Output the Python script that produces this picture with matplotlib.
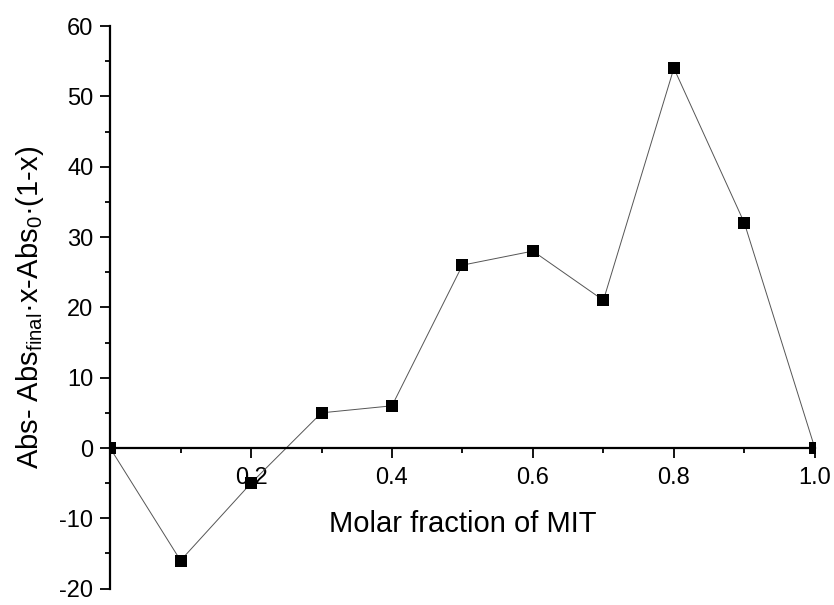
import matplotlib
matplotlib.use("Agg")
import matplotlib.pyplot as plt
from matplotlib.ticker import MultipleLocator, FixedLocator

plt.rcParams["font.family"] = ["Liberation Sans", "DejaVu Sans"]
plt.rcParams["mathtext.default"] = "regular"
plt.rcParams["axes.unicode_minus"] = False

# --- Data ---
molar_fraction = [0.0, 0.1, 0.2, 0.3, 0.4, 0.5, 0.6, 0.7, 0.8, 0.9, 1.0]
abs_deviation = [0, -16, -5, 5, 6, 26, 28, 21, 54, 32, 0]
x_major_ticks = [0.2, 0.4, 0.6, 0.8, 1.0]
x_tick_labels = ["0.2", "0.4", "0.6", "0.8", "1.0"]

fig = plt.figure(figsize=(8.34, 6.05), dpi=100)
ax = fig.add_axes([0.132, 0.027, 0.845, 0.930])

ax.plot(molar_fraction, abs_deviation, color="#555555", lw=0.7, zorder=3)
# square markers as a collection so the end points get clipped by the axes
ax.scatter(molar_fraction, abs_deviation, marker="s", s=75,
           color="black", linewidths=0, zorder=3)

ax.set_xlim(0, 1.0)
ax.set_ylim(-20, 60)

# x axis runs through y = 0
ax.spines["bottom"].set_position(("data", 0))
ax.spines["top"].set_visible(False)
ax.spines["right"].set_visible(False)
for side in ("bottom", "left"):
    ax.spines[side].set_linewidth(1.6)
    ax.spines[side].set_zorder(4)

ax.xaxis.set_major_locator(FixedLocator(x_major_ticks))
ax.set_xticklabels(x_tick_labels)
ax.xaxis.set_minor_locator(MultipleLocator(0.1))
ax.yaxis.set_major_locator(MultipleLocator(10))
ax.yaxis.set_minor_locator(MultipleLocator(5))

ax.tick_params(which="major", direction="out", length=7, width=1.3, labelsize=17)
ax.tick_params(which="minor", direction="out", length=3.5, width=1.3)
ax.tick_params(axis="x", pad=7)
ax.tick_params(axis="y", pad=5)

ax.set_xlabel("Molar fraction of MIT", fontsize=21, labelpad=15)
ax.set_ylabel("Abs- Abs$_{final}$·x-Abs$_0$·(1-x)", fontsize=21, labelpad=10)

fig.savefig("out.png", dpi=100)
